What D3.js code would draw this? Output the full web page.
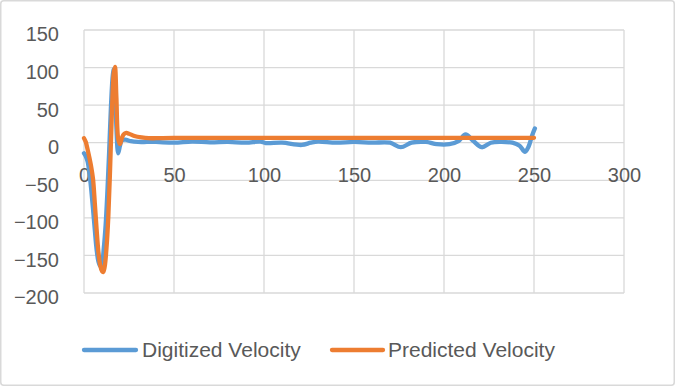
<!DOCTYPE html>
<html>
<head>
<meta charset="utf-8">
<script src="https://cdn.jsdelivr.net/npm/d3@7"></script>
<style>
  html, body { margin: 0; padding: 0; background: #fff; }
  svg { display: block; }
  text { font-family: "Liberation Sans", Arial, sans-serif; fill: #595959; }
</style>
</head>
<body>
<svg id="chart" width="676" height="387"></svg>
<script>
// ---- data ----
const xTicks = [0, 50, 100, 150, 200, 250, 300];
const yTicks = [150, 100, 50, 0, -50, -100, -150, -200];

const digitizedX = [0, 1, 2, 3, 4, 5, 6, 7, 8, 9, 10, 11, 12, 13, 14, 15, 16, 16.6, 17.3, 18, 19, 20, 21, 23, 26, 30, 35, 40, 50, 60, 70, 80, 90, 98, 101, 110, 121, 126, 130, 140, 150, 160, 170, 176, 182, 190, 196, 203, 208, 212, 216, 221, 226, 232, 238, 242, 245, 247, 249, 250.5];
const digitizedY = [-14, -18, -25, -40, -62, -88, -116, -142, -158, -164, -160, -140, -110, -65, -10, 50, 90, 98, 80, 20, -14, -4, 3, 4, 2, 1, 1, 1, 0, 1.5, 0.5, 1, 0, 1.5, -0.5, 0, -3, 0, 1.5, 0, 1, 0, 0, -6, 0, 1, -2, -2, 2, 11, 3, -6, 0, 1, 0, -4, -12, -5, 10, 19];

const predictedX = [0, 1, 2, 3, 4, 5, 6, 7, 8, 9, 10, 10.7, 11.5, 12.5, 13.5, 14.5, 15.5, 16.5, 17.2, 18, 19, 20, 21, 22, 23.5, 25, 28, 32, 36, 40, 50, 100, 150, 200, 250];
const predictedY = [6, 1, -9, -20, -32, -48, -80, -115, -145, -163, -171, -172, -165, -140, -99, -35, 40, 92, 101, 60, 5, -2, 6, 11, 13, 12, 9, 7, 6, 6, 6.5, 6.5, 6.5, 6.5, 6.5];

const seriesNames = ["Digitized Velocity", "Predicted Velocity"];
const seriesColors = ["#5b9bd5", "#ed7d31"];

// ---- layout ----
const svg = d3.select("#chart");
const W = 676, H = 387;
const plot = { left: 84, right: 624, top: 30, bottom: 293 };

svg.append("rect")
  .attr("x", 0.75).attr("y", 0.75)
  .attr("width", W - 2.5).attr("height", H - 2.5)
  .attr("rx", 3)
  .attr("fill", "#fff").attr("stroke", "#d9d9d9").attr("stroke-width", 1.5);

const x = d3.scaleLinear().domain([0, 300]).range([plot.left, plot.right]);
const y = d3.scaleLinear().domain([-200, 150]).range([plot.bottom, plot.top]);

// gridlines
const grid = svg.append("g").attr("stroke", "#d9d9d9").attr("stroke-width", 1.3);
grid.selectAll("line.h").data(yTicks).join("line")
  .attr("x1", plot.left).attr("x2", plot.right)
  .attr("y1", d => y(d)).attr("y2", d => y(d));
grid.selectAll("line.v").data(xTicks).join("line")
  .attr("x1", d => x(d)).attr("x2", d => x(d))
  .attr("y1", plot.top).attr("y2", plot.bottom);

// y axis labels
const yAxis = d3.axisLeft(y).tickValues(yTicks).tickSize(0).tickPadding(0);
const gy = svg.append("g").attr("transform", `translate(${plot.left - 25},4.5)`).call(yAxis);
gy.select(".domain").remove();
gy.selectAll("text").style("font-size", "20px").attr("fill", "#595959")
  .style("font-family", '"Liberation Sans", Arial, sans-serif');

// x axis labels (axis crosses at y=0)
const xAxis = d3.axisBottom(x).tickValues(xTicks).tickSize(0).tickPadding(0);
const gx = svg.append("g").attr("transform", `translate(0,${y(0)})`).call(xAxis);
gx.select(".domain").remove();
gx.selectAll("text").style("font-size", "20px").attr("fill", "#595959")
  .attr("dy", null).attr("y", 39)
  .style("font-family", '"Liberation Sans", Arial, sans-serif');

// lines
const line = d3.line().x(d => x(d[0])).y(d => y(d[1])).curve(d3.curveCatmullRom.alpha(0.5));
const digitized = digitizedX.map((v, i) => [v, digitizedY[i]]);
const predicted = predictedX.map((v, i) => [v, predictedY[i]]);

svg.append("path").datum(digitized).attr("d", line)
  .attr("fill", "none").attr("stroke", seriesColors[0]).attr("stroke-width", 4.3)
  .attr("stroke-linejoin", "round").attr("stroke-linecap", "round");
svg.append("path").datum(predicted).attr("d", line)
  .attr("fill", "none").attr("stroke", seriesColors[1]).attr("stroke-width", 4.3)
  .attr("stroke-linejoin", "round").attr("stroke-linecap", "round");

// legend
const legendItems = [
  { x1: 84, x2: 136, tx: 142 },
  { x1: 332, x2: 383, tx: 388 }
];
const lg = svg.append("g");
legendItems.forEach((it, i) => {
  lg.append("line").attr("x1", it.x1).attr("x2", it.x2).attr("y1", 350).attr("y2", 350)
    .attr("stroke", seriesColors[i]).attr("stroke-width", 4.3).attr("stroke-linecap", "round");
  lg.append("text").attr("x", it.tx).attr("y", 357).style("font-size", "21px")
    .text(seriesNames[i]);
});
</script>
</body>
</html>
